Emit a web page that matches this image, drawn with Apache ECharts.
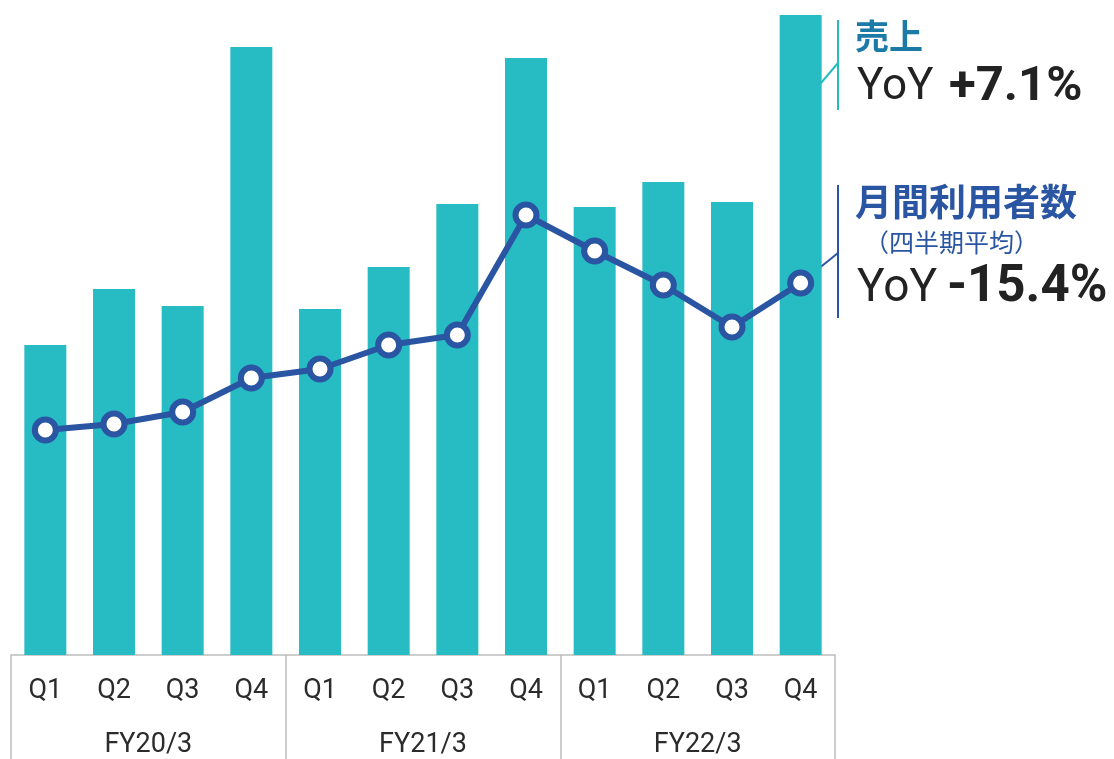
<!DOCTYPE html>
<html>
<head>
<meta charset="utf-8">
<script src="https://cdn.jsdelivr.net/npm/echarts@6/dist/echarts.min.js"></script>
<style>
    html, body { margin: 0; padding: 0; background: #fff; }
    #main { width: 1114px; height: 759px; }
</style>
</head>
<body>
<div id="main"></div>
<script>
// data
var quarters = ['Q1', 'Q2', 'Q3', 'Q4', 'Q1', 'Q2', 'Q3', 'Q4', 'Q1', 'Q2', 'Q3', 'Q4'];
var years = ['FY20/3', 'FY21/3', 'FY22/3'];
var uriage = [310, 366, 349, 608, 346, 388, 451, 597, 448, 473, 453, 640];     // 売上
var riyosha = [225, 231, 243, 277, 286, 310, 320, 440, 404, 370, 328, 372];   // 月間利用者数

var tealColor = '#27bcc3';
var blueColor = '#2a55a2';
var gridColor = '#bdbdbd';

var myChart = echarts.init(document.getElementById('main'));

var option = {
    animation: false,
    grid: { left: 11, right: 279, top: 0, bottom: 104 },
    xAxis: [
        {
            type: 'category',
            data: quarters,
            axisLine: { show: true, lineStyle: { color: gridColor, width: 1.5 } },
            axisTick: { show: false },
            axisLabel: {
                margin: 23,
                color: '#2b2b2b',
                fontSize: 27,
                fontFamily: 'Roboto'
            }
        },
        {
            type: 'category',
            data: years,
            position: 'bottom',
            axisLine: { show: false },
            axisTick: {
                show: true,
                length: 104,
                interval: 0,
                lineStyle: { color: gridColor, width: 1.5 }
            },
            axisLabel: {
                margin: 77,
                color: '#2b2b2b',
                fontSize: 27,
                fontFamily: 'Roboto'
            }
        }
    ],
    yAxis: [
        { type: 'value', min: 0, max: 655, show: false, splitLine: { show: false } },
        { type: 'value', min: 0, max: 655, show: false, splitLine: { show: false } }
    ],
    series: [
        {
            name: '売上',
            type: 'bar',
            data: uriage,
            barWidth: 42,
            itemStyle: { color: tealColor }
        },
        {
            name: '月間利用者数',
            type: 'line',
            yAxisIndex: 1,
            data: riyosha,
            symbol: 'circle',
            symbolSize: 21,
            lineStyle: { color: blueColor, width: 6 },
            itemStyle: { color: '#fff', borderColor: blueColor, borderWidth: 6 },
            z: 5
        }
    ]
};
myChart.setOption(option);

// 右側の注記
var lastPt = myChart.convertToPixel({ xAxisIndex: 0, yAxisIndex: 1 }, [11, riyosha[11]]);

var graphics = [
    // 売上
    { type: 'line', shape: { x1: 838, y1: 20, x2: 838, y2: 110 }, style: { stroke: tealColor, lineWidth: 2 } },
    { type: 'line', shape: { x1: 815, y1: 90, x2: 838, y2: 63 }, style: { stroke: tealColor, lineWidth: 2 } },
    { type: 'text', left: 855, top: 19, style: { text: '売上', fill: '#1b7aa6', font: 'bold 34px "Noto Sans CJK JP"' } },
    { type: 'text', left: 857, top: 66, style: { text: 'YoY', fill: '#222', font: '44px Roboto' } },
    { type: 'text', left: 949, top: 63, style: { text: '+7.1%', fill: '#222', font: 'bold 49px Roboto' } },
    // 月間利用者数
    { type: 'line', shape: { x1: 838, y1: 185, x2: 838, y2: 318 }, style: { stroke: blueColor, lineWidth: 2 } },
    { type: 'line', shape: { x1: lastPt[0], y1: lastPt[1], x2: 838, y2: 253 }, style: { stroke: blueColor, lineWidth: 2 }, z: 1 },
    { type: 'text', left: 855, top: 183, style: { text: '月間利用者数', fill: blueColor, font: 'bold 37px "Noto Sans CJK JP"' } },
    { type: 'text', left: 864, top: 230, style: { text: '（四半期平均）', fill: blueColor, font: '25px "Noto Sans CJK JP"' } },
    { type: 'text', left: 857, top: 266, style: { text: 'YoY', fill: '#222', font: '46px Roboto' } },
    { type: 'text', left: 947, top: 263, style: { text: '-15.4%', fill: '#222', font: 'bold 51px Roboto' } }
];
myChart.setOption({ graphic: graphics });
</script>
</body>
</html>
